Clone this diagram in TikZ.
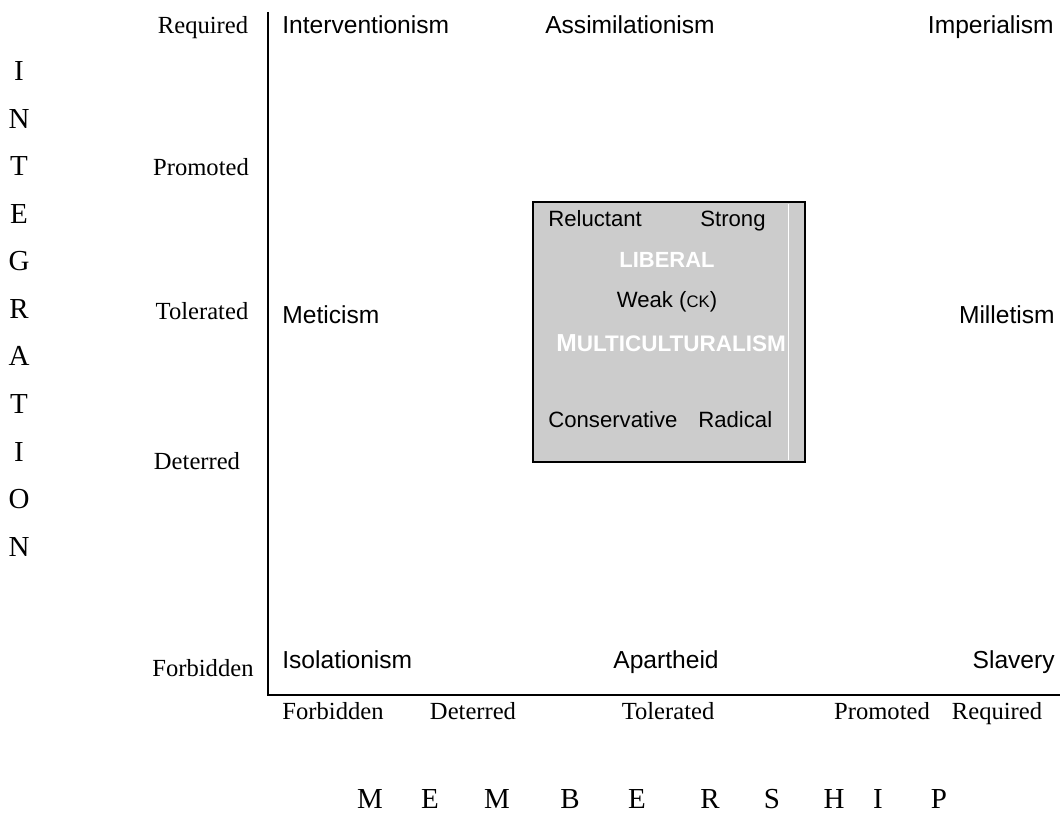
\documentclass[tikz,border=0pt]{standalone}
\usepackage{fontspec}
\setmainfont{Liberation Serif}
\setsansfont{Liberation Sans}
\usepackage{tikz}
\usetikzlibrary{positioning}
\tikzset{
  lvl_lbl/.style = {anchor=base, inner sep=0pt, font=\fontsize{14}{16}\selectfont},
  axis_ltr/.style = {anchor=base, inner sep=0pt, font=\fontsize{16.5}{18}\selectfont},
  regime_l/.style = {anchor=base west, inner sep=0pt, font=\sffamily\fontsize{14}{16}\selectfont},
  regime_c/.style = {regime_l, anchor=base},
  regime_r/.style = {regime_l, anchor=base east},
  box_txt/.style = {anchor=base west, inner sep=0pt, font=\sffamily\fontsize{12.6}{14}\selectfont},
  box_head/.style = {anchor=base, inner sep=0pt, text=white, font=\sffamily\bfseries\fontsize{12.5}{14}\selectfont}
}
\definecolor{my_grey}{RGB}{204, 204, 204}
\newcommand{\smallck}{{\fontsize{9.5}{10}\selectfont CK}}

\begin{document}
\begin{tikzpicture}[x=0.02cm, y=-0.02cm,
        axis/.style={line width=1.2pt},
        mc/.style={draw, line width=1.2pt, fill=my_grey, inner sep=0pt,
                   minimum width=5.44cm, minimum height=5.2cm}]
    \useasboundingbox (0,0) rectangle (1060,813);
    % axes
    \coordinate (y_top) at (268,12);
    \coordinate (origin) at (268,695);
    \coordinate (x_end) at (1060,695);
    \draw[axis] (y_top) -- (origin) -- (x_end);

    % multiculturalism box
    \node[mc] (mc_box) at (669,332) {};
    \draw[white, line width=0.5pt] (788,204) -- (788,460);
    \node[box_txt] (reluct) at (548,227) {Reluctant};
    \node[box_txt] (strong) at (700,227) {Strong};
    \node[box_head] (liberal) at (667,268) {LIBERAL};
    \node[box_txt, anchor=base] (weak) at (667,308) {Weak (\smallck)};
    \node[box_head, anchor=base west] (multi) at (556,352)
        {{\fontsize{14}{14}\selectfont M}{\fontsize{12.8}{14}\selectfont ULTICULTURALISM}};
    \node[box_txt] (conserv) at (548,428) {Conservative};
    \node[box_txt] (radical) at (698,428) {Radical};

    % regimes
    \node[regime_l] (interv) at (282,34) {Interventionism};
    \node[regime_c] (assim) at (630,34) {Assimilationism};
    \node[regime_r] (imper) at (1054,34) {Imperialism};
    \node[regime_l] (metic) at (282,324) {Meticism};
    \node[regime_r] (millet) at (1055,324) {Milletism};
    \node[regime_l] (isol) at (282,668) {Isolationism};
    \node[regime_c] (apart) at (666,668) {Apartheid};
    \node[regime_r] (slave) at (1055,668) {Slavery};

    % integration levels
    \node[lvl_lbl] (i_req) at (203,34) {Required};
    \node[lvl_lbl] (i_pro) at (201,176) {Promoted};
    \node[lvl_lbl] (i_tol) at (202,320) {Tolerated};
    \node[lvl_lbl] (i_det) at (197,469) {Deterred};
    \node[lvl_lbl] (i_for) at (203,676) {Forbidden};

    % membership levels
    \node[lvl_lbl] (m_for) at (333,719) {Forbidden};
    \node[lvl_lbl] (m_det) at (473,719) {Deterred};
    \node[lvl_lbl] (m_tol) at (668,719) {Tolerated};
    \node[lvl_lbl] (m_pro) at (882,719) {Promoted};
    \node[lvl_lbl] (m_req) at (997,719) {Required};

    % axis titles
    \foreach \ltr [count=\k from 0] in {I,N,T,E,G,R,A,T,I,O,N}
        \node[axis_ltr] (int_\k) at (19,81+47.5*\k) {\ltr};
    \foreach \ltr/\xx [count=\k] in {M/370,E/430,M/497,B/570,E/637,R/710,S/772,H/834,I/878,P/939}
        \node[axis_ltr] (mem_\k) at (\xx,808) {\ltr};
\end{tikzpicture}
\end{document}
